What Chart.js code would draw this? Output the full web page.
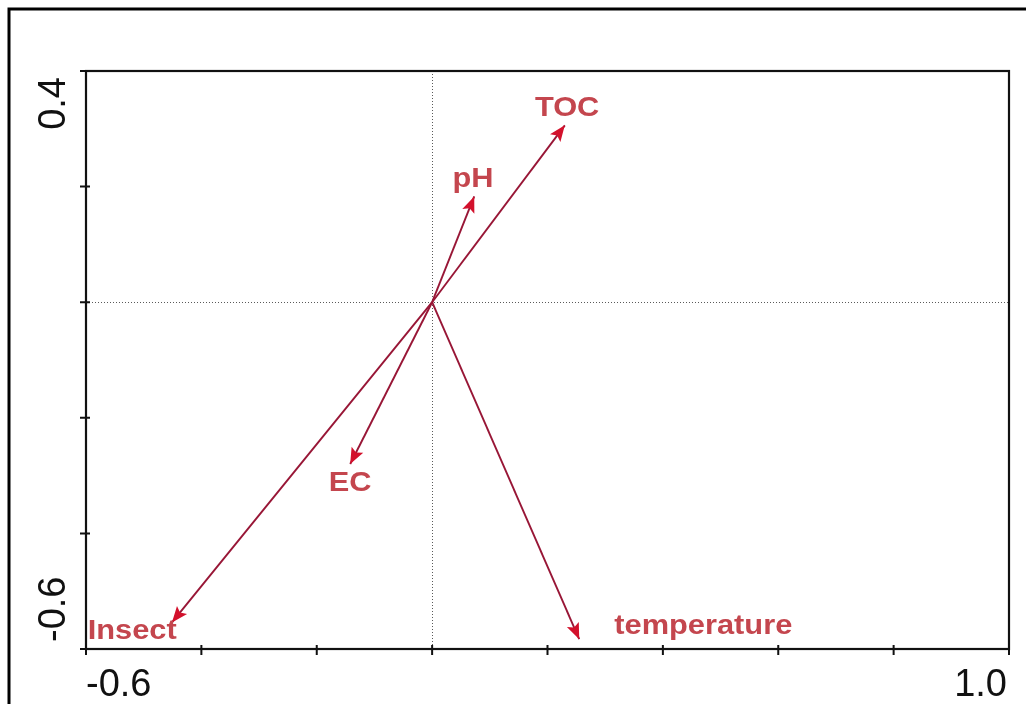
<!DOCTYPE html>
<html>
<head>
<meta charset="utf-8">
<script src="https://cdn.jsdelivr.net/npm/chart.js@4"></script>
<style>
  html, body { margin: 0; padding: 0; background: #ffffff; }
  #wrap { width: 1026px; height: 704px; }
</style>
</head>
<body>
<div id="wrap"><canvas id="c" width="1026" height="704"></canvas></div>
<script>
// ---- data ----
const variables = ['TOC', 'pH', 'EC', 'Insect', 'temperature'];
const tipX = [0.230, 0.073, -0.142, -0.451, 0.255];
const tipY = [0.306, 0.183, -0.280, -0.554, -0.583];
const labelX = [0.234, 0.071, -0.142, -0.520, 0.470];
const labelY = [0.340, 0.216, -0.309, -0.565, -0.557];
const xRange = [-0.6, 1.0];
const yRange = [-0.6, 0.4];
const xTicks = [-0.6, -0.4, -0.2, 0.0, 0.2, 0.4, 0.6, 0.8, 1.0];
const yTicks = [0.4, 0.2, 0.0, -0.2, -0.4, -0.6];
const xTickLabels = ['-0.6', '1.0'];
const yTickLabels = ['0.4', '-0.6'];

// ---- styles ----
const LINE_COLOR = '#981636';
const HEAD_COLOR = '#d3112c';
const LABEL_COLOR = '#c4464e';
const LABEL_FONT_SIZE = 28;

const datasets = variables.map((v, i) => ({
  label: v,
  type: 'line',
  data: [{x: 0, y: 0}, {x: tipX[i], y: tipY[i]}],
  borderColor: LINE_COLOR,
  borderWidth: 1.9,
  pointRadius: 0,
  fill: false,
  tension: 0
}));

const biplotPlugin = {
  id: 'biplot',
  beforeDatasetsDraw(chart) {
    const ctx = chart.ctx;
    const xs = chart.scales.x, ys = chart.scales.y;
    const a = chart.chartArea;
    ctx.save();
    // outer frame
    ctx.strokeStyle = '#000';
    ctx.lineWidth = 3;
    ctx.beginPath();
    ctx.moveTo(9, 710);
    ctx.lineTo(9, 9);
    ctx.lineTo(1030, 9);
    ctx.stroke();
    // dotted zero lines
    ctx.strokeStyle = '#5a5a5a';
    ctx.lineWidth = 1;
    ctx.setLineDash([1, 2]);
    const x0 = Math.round(xs.getPixelForValue(0)) + 0.5;
    const y0 = Math.round(ys.getPixelForValue(0)) + 0.5;
    ctx.beginPath();
    ctx.moveTo(x0, a.top); ctx.lineTo(x0, a.bottom);
    ctx.moveTo(a.left, y0); ctx.lineTo(a.right, y0);
    ctx.stroke();
    ctx.setLineDash([]);
    ctx.restore();
  },
  afterDatasetsDraw(chart) {
    const ctx = chart.ctx;
    const xs = chart.scales.x, ys = chart.scales.y;
    const a = chart.chartArea;
    ctx.save();
    // arrowheads
    ctx.fillStyle = HEAD_COLOR;
    variables.forEach((v, i) => {
      const px0 = xs.getPixelForValue(0), py0 = ys.getPixelForValue(0);
      const px = xs.getPixelForValue(tipX[i]), py = ys.getPixelForValue(tipY[i]);
      const ang = Math.atan2(py - py0, px - px0);
      const L = 16, W = 6.5;
      ctx.beginPath();
      ctx.moveTo(px, py);
      ctx.lineTo(px - L * Math.cos(ang) + W * Math.sin(ang), py - L * Math.sin(ang) - W * Math.cos(ang));
      ctx.lineTo(px - L * 0.8 * Math.cos(ang), py - L * 0.8 * Math.sin(ang));
      ctx.lineTo(px - L * Math.cos(ang) - W * Math.sin(ang), py - L * Math.sin(ang) + W * Math.cos(ang));
      ctx.closePath();
      ctx.fill();
    });
    // variable labels
    ctx.fillStyle = LABEL_COLOR;
    ctx.font = 'bold ' + LABEL_FONT_SIZE + 'px "Liberation Sans", Arial, sans-serif';
    ctx.textAlign = 'center';
    ctx.textBaseline = 'alphabetic';
    variables.forEach((v, i) => {
      const px = xs.getPixelForValue(labelX[i]);
      const py = ys.getPixelForValue(labelY[i]) + LABEL_FONT_SIZE * 0.716 / 2;
      ctx.save();
      ctx.translate(px, py);
      ctx.scale(1.1, 1);
      ctx.fillText(v, 0, 0);
      ctx.restore();
    });
    // plot frame
    ctx.strokeStyle = '#111';
    ctx.lineWidth = 2.2;
    ctx.strokeRect(a.left, a.top, a.right - a.left, a.bottom - a.top);
    // ticks
    ctx.lineWidth = 2;
    ctx.beginPath();
    xTicks.forEach(t => {
      const px = xs.getPixelForValue(t);
      ctx.moveTo(px, a.bottom - 4); ctx.lineTo(px, a.bottom + 6);
    });
    yTicks.forEach(t => {
      const py = ys.getPixelForValue(t);
      ctx.moveTo(a.left - 6, py); ctx.lineTo(a.left + 4, py);
    });
    ctx.stroke();
    // tick labels
    ctx.fillStyle = '#111';
    ctx.font = '38px "Liberation Sans", Arial, sans-serif';
    ctx.textBaseline = 'alphabetic';
    ctx.textAlign = 'left';
    ctx.fillText(xTickLabels[0], xs.getPixelForValue(xRange[0]), a.bottom + 47);
    ctx.textAlign = 'right';
    ctx.fillText(xTickLabels[1], xs.getPixelForValue(xRange[1]) - 2, a.bottom + 47);
    // y tick labels rotated
    ctx.save();
    ctx.translate(65, ys.getPixelForValue(yRange[1]) + 6);
    ctx.rotate(-Math.PI / 2);
    ctx.textAlign = 'right';
    ctx.fillText(yTickLabels[0], 0, 0);
    ctx.restore();
    ctx.save();
    ctx.translate(65, ys.getPixelForValue(yRange[0]) - 7);
    ctx.rotate(-Math.PI / 2);
    ctx.textAlign = 'left';
    ctx.fillText(yTickLabels[1], 0, 0);
    ctx.restore();
    ctx.restore();
  }
};

new Chart(document.getElementById('c'), {
  type: 'scatter',
  data: { datasets },
  options: {
    responsive: false,
    animation: false,
    layout: { padding: { left: 86, top: 71, right: 17, bottom: 55 } },
    plugins: { legend: { display: false }, tooltip: { enabled: false } },
    scales: {
      x: { type: 'linear', min: xRange[0], max: xRange[1], display: false },
      y: { type: 'linear', min: yRange[0], max: yRange[1], display: false }
    }
  },
  plugins: [biplotPlugin]
});
</script>
</body>
</html>
